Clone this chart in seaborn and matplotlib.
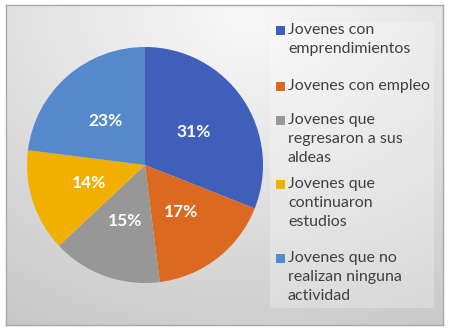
import numpy as np
import matplotlib
matplotlib.use("Agg")
import matplotlib.pyplot as plt
from matplotlib.patches import Rectangle
import seaborn as sns

# ---- data ----
categories = [
    "Jovenes con\nemprendimientos",
    "Jovenes con empleo",
    "Jovenes que\nregresaron a sus\naldeas",
    "Jovenes que\ncontinuaron\nestudios",
    "Jovenes que no\nrealizan ninguna\nactividad",
]
values = [31, 17, 15, 14, 23]
colors = ["#3F5FBB", "#DB6A20", "#979797", "#F1B000", "#5689CC"]

sns.set_theme(style="white")
plt.rcParams["font.family"] = ["Lato", "DejaVu Sans"]

W, H = 454, 334
fig = plt.figure(figsize=(W / 100, H / 100), dpi=100)
fig.patch.set_facecolor("white")

# background frame with gradient
fl, fr, ft, fb = 6, 443, 5, 325
bg = fig.add_axes([fl / W, 1 - fb / H, (fr - fl) / W, (fb - ft) / H])
yy, xx = np.mgrid[0:1:200j, 0:1:300j]
r = np.sqrt(((xx - 0.55) * 1.2) ** 2 + (yy - 0.05) ** 2)
g = 0.975 - 0.17 * np.clip(r, 0, 1.2) / 1.2 - 0.03 * yy
img = np.dstack([g, g, g])
bg.imshow(img, aspect="auto", extent=[0, 1, 1, 0], interpolation="bilinear")
bg.set_xlim(0, 1)
bg.set_ylim(1, 0)
bg.set_xticks([])
bg.set_yticks([])
for s in bg.spines.values():
    s.set_color("#A8A8A8")
    s.set_linewidth(1.0)

# legend box
lx0, lx1, ly0, ly1 = 270, 434, 22, 308
bg.add_patch(Rectangle(((lx0 - fl) / (fr - fl), (ly0 - ft) / (fb - ft)),
                       (lx1 - lx0) / (fr - fl), (ly1 - ly0) / (fb - ft),
                       facecolor="white", alpha=0.25, edgecolor="none"))

# pie
cx, cy, rad = 145, 165, 118
ax = fig.add_axes([(cx - rad) / W, 1 - (cy + rad) / H, 2 * rad / W, 2 * rad / H])
wedges, texts, autotexts = ax.pie(
    values, colors=colors, startangle=90, counterclock=False,
    autopct="%d%%", pctdistance=0.5, radius=1.0,
    wedgeprops=dict(linewidth=0),
    textprops=dict(color="white", fontsize=12.5, fontweight="bold"),
)
ax.set_xlim(-1, 1)
ax.set_ylim(-1, 1)
ax.set_aspect("equal")
ax.axis("off")

# legend
first_line_y = [30, 86, 120, 184, 258]
for lab, col, y in zip(categories, colors, first_line_y):
    fig.patches.append(Rectangle((276 / W, 1 - (y + 5) / H), 9 / W, 9 / H,
                                 facecolor=col, edgecolor="none",
                                 transform=fig.transFigure, figure=fig))
    fig.text(288 / W, 1 - (y - 7) / H, lab, ha="left", va="top",
             fontsize=11.5, color="#404040", linespacing=1.44)

fig.savefig("out.png", dpi=100)
